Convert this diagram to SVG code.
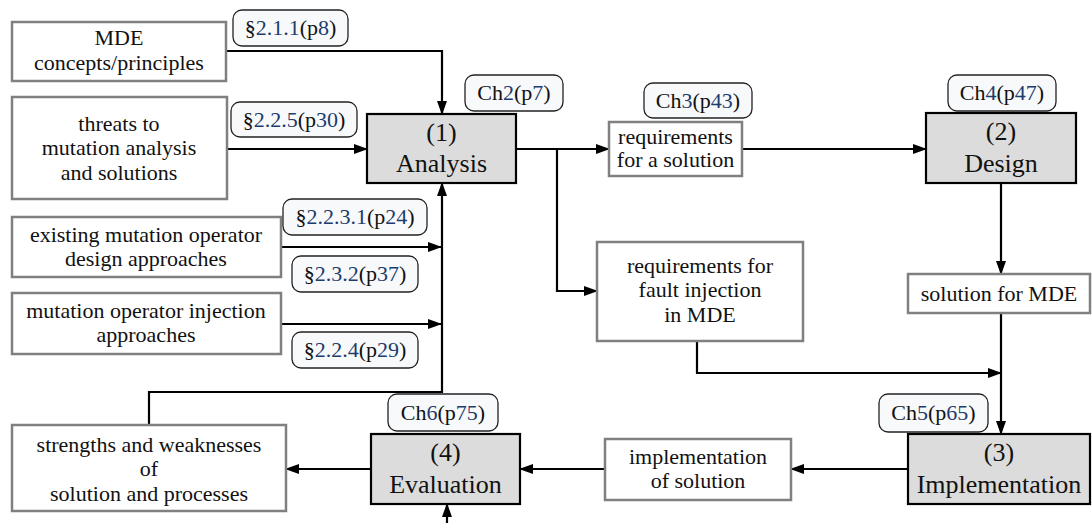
<svg xmlns="http://www.w3.org/2000/svg" width="1092" height="523" viewBox="0 0 1092 523">
  <style>
    .info { fill: #ffffff; stroke: #808080; stroke-width: 2.5; }
    .step { fill: #dcdcdc; stroke: #000000; stroke-width: 2.2; }
    .tag { fill: #f8f9fa; stroke: #222222; stroke-width: 1.3; }
    text { font-family: "Liberation Serif", "DejaVu Serif", serif; fill: #111; text-anchor: middle; }
    .txt { font-size: 22px; }
    .head { font-size: 26px; }
    .ref { font-size: 22px; }
    .num { fill: #1c3c6e; }
    .wire { fill: none; stroke: #000; stroke-width: 2.2; marker-end: url(#arrow); }
  </style>
  <defs>
    <marker id="arrow" viewBox="0 0 14 10" refX="13" refY="5" markerWidth="14" markerHeight="10" markerUnits="userSpaceOnUse" orient="auto">
      <path d="M0,0 L14,5 L0,10 z" fill="#000"/>
    </marker>
  </defs>

  <!-- connectors -->
  <g id="connectors">
    <path class="wire" d="M226,51 H442 V114"/>
    <path class="wire" d="M227,149 H367"/>
    <path class="wire" d="M282,247 H441"/>
    <path class="wire" d="M282,324 H441"/>
    <path class="wire" d="M149,425 V392 H442 V183"/>
    <path class="wire" d="M516,149 H609"/>
    <path class="wire" d="M557,149 V291 H597"/>
    <path class="wire" d="M742,149 H926"/>
    <path class="wire" d="M1001,183 V274"/>
    <path class="wire" d="M1001,313 V434"/>
    <path class="wire" d="M697,341 V373 H1001"/>
    <path class="wire" d="M908,469 H791"/>
    <path class="wire" d="M605,469 H520"/>
    <path class="wire" d="M371,469 H286"/>
    <path class="wire" d="M447,525 V504"/>
  </g>

  <!-- input nodes -->
  <g id="mde-concepts">
    <rect class="info" x="12" y="22" width="214" height="59"/>
    <text class="txt" x="119" y="45">MDE</text>
    <text class="txt" x="119" y="70">concepts/principles</text>
  </g>
  <g id="threats">
    <rect class="info" x="12" y="97" width="215" height="102"/>
    <text class="txt" x="119" y="131">threats to</text>
    <text class="txt" x="119" y="155">mutation analysis</text>
    <text class="txt" x="119" y="180">and solutions</text>
  </g>
  <g id="existing-operators">
    <rect class="info" x="12" y="217" width="269" height="60"/>
    <text class="txt" x="146" y="242">existing mutation operator</text>
    <text class="txt" x="146" y="266">design approaches</text>
  </g>
  <g id="injection-approaches">
    <rect class="info" x="12" y="293" width="269" height="61"/>
    <text class="txt" x="146" y="318">mutation operator injection</text>
    <text class="txt" x="146" y="342">approaches</text>
  </g>

  <!-- section references -->
  <g id="ref-2-1-1">
    <rect class="tag" x="233" y="10" width="115" height="36" rx="9"/>
    <text class="ref" x="290.5" y="35">§<tspan class="num">2.1.1</tspan>(p<tspan class="num">8</tspan>)</text>
  </g>
  <g id="ref-2-2-5">
    <rect class="tag" x="231" y="102" width="126" height="35" rx="9"/>
    <text class="ref" x="294" y="127">§<tspan class="num">2.2.5</tspan>(p<tspan class="num">30</tspan>)</text>
  </g>
  <g id="ref-2-2-3-1">
    <rect class="tag" x="283" y="199" width="144" height="36" rx="9"/>
    <text class="ref" x="355" y="224">§<tspan class="num">2.2.3.1</tspan>(p<tspan class="num">24</tspan>)</text>
  </g>
  <g id="ref-2-3-2">
    <rect class="tag" x="292" y="256" width="126" height="36" rx="9"/>
    <text class="ref" x="355" y="281">§<tspan class="num">2.3.2</tspan>(p<tspan class="num">37</tspan>)</text>
  </g>
  <g id="ref-2-2-4">
    <rect class="tag" x="292" y="332" width="126" height="36" rx="9"/>
    <text class="ref" x="355" y="357">§<tspan class="num">2.2.4</tspan>(p<tspan class="num">29</tspan>)</text>
  </g>

  <!-- (1) Analysis -->
  <g id="analysis">
    <rect class="step" x="367" y="114" width="149" height="69"/>
    <text class="head" x="441.5" y="141">(1)</text>
    <text class="head" x="441.5" y="172">Analysis</text>
  </g>
  <g id="ref-ch2">
    <rect class="tag" x="465" y="75" width="98" height="36" rx="9"/>
    <text class="ref" x="514" y="100">Ch<tspan class="num">2</tspan>(p<tspan class="num">7</tspan>)</text>
  </g>

  <!-- requirements for a solution -->
  <g id="requirements-solution">
    <rect class="info" x="609" y="122" width="133" height="54"/>
    <text class="txt" x="675.5" y="144">requirements</text>
    <text class="txt" x="675.5" y="167">for a solution</text>
  </g>
  <g id="ref-ch3">
    <rect class="tag" x="644" y="83" width="108" height="35" rx="9"/>
    <text class="ref" x="698" y="108">Ch<tspan class="num">3</tspan>(p<tspan class="num">43</tspan>)</text>
  </g>

  <!-- requirements for fault injection -->
  <g id="requirements-fault-injection">
    <rect class="info" x="597" y="242" width="206" height="99"/>
    <text class="txt" x="700" y="273">requirements for</text>
    <text class="txt" x="700" y="297">fault injection</text>
    <text class="txt" x="700" y="322">in MDE</text>
  </g>

  <!-- (2) Design -->
  <g id="design">
    <rect class="step" x="926" y="113" width="150" height="70"/>
    <text class="head" x="1001" y="140">(2)</text>
    <text class="head" x="1001" y="172">Design</text>
  </g>
  <g id="ref-ch4">
    <rect class="tag" x="948" y="75" width="108" height="36" rx="9"/>
    <text class="ref" x="1002" y="100">Ch<tspan class="num">4</tspan>(p<tspan class="num">47</tspan>)</text>
  </g>

  <!-- solution for MDE -->
  <g id="solution-mde">
    <rect class="info" x="908" y="274" width="182" height="39"/>
    <text class="txt" x="999" y="301">solution for MDE</text>
  </g>

  <!-- (3) Implementation -->
  <g id="implementation">
    <rect class="step" x="908" y="434" width="182" height="70"/>
    <text class="head" x="999" y="461">(3)</text>
    <text class="head" x="999" y="493">Implementation</text>
  </g>
  <g id="ref-ch5">
    <rect class="tag" x="879" y="394" width="109" height="38" rx="9"/>
    <text class="ref" x="933.5" y="420">Ch<tspan class="num">5</tspan>(p<tspan class="num">65</tspan>)</text>
  </g>

  <!-- implementation of solution -->
  <g id="implementation-solution">
    <rect class="info" x="605" y="439" width="186" height="61"/>
    <text class="txt" x="698" y="464">implementation</text>
    <text class="txt" x="698" y="488">of solution</text>
  </g>

  <!-- (4) Evaluation -->
  <g id="evaluation">
    <rect class="step" x="371" y="434" width="149" height="70"/>
    <text class="head" x="445.5" y="461">(4)</text>
    <text class="head" x="445.5" y="493">Evaluation</text>
  </g>
  <g id="ref-ch6">
    <rect class="tag" x="388" y="394" width="110" height="37" rx="9"/>
    <text class="ref" x="443" y="420">Ch<tspan class="num">6</tspan>(p<tspan class="num">75</tspan>)</text>
  </g>

  <!-- strengths and weaknesses -->
  <g id="strengths-weaknesses">
    <rect class="info" x="12" y="425" width="274" height="86"/>
    <text class="txt" x="149" y="452">strengths and weaknesses</text>
    <text class="txt" x="149" y="476">of</text>
    <text class="txt" x="149" y="501">solution and processes</text>
  </g>
</svg>
